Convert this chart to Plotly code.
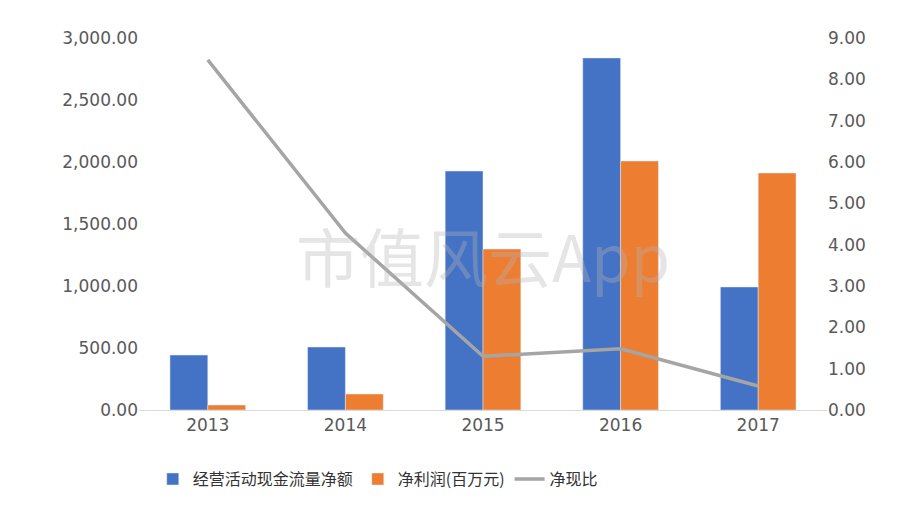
import plotly.graph_objects as go

years = ["2013", "2014", "2015", "2016", "2017"]
cash_flow = [443, 508, 1927, 2839, 992]
net_profit = [40, 129, 1298, 2008, 1911]
ratio = [8.47, 4.28, 1.30, 1.48, 0.58]

left_ticks = [0, 500, 1000, 1500, 2000, 2500, 3000]
right_ticks = [0, 1, 2, 3, 4, 5, 6, 7, 8, 9]

fig = go.Figure()
fig.add_trace(go.Bar(x=years, y=cash_flow, name="经营活动现金流量净额",
                     marker_color="#4472C4"))
fig.add_trace(go.Bar(x=years, y=net_profit, name="净利润(百万元)",
                     marker_color="#ED7D31"))
fig.add_trace(go.Scatter(x=years, y=ratio, name="净现比", yaxis="y2",
                         mode="lines", line=dict(color="#A5A5A5", width=3.5)))

tick_font = dict(family="DejaVu Sans", size=17, color="#595959")
fig.update_layout(
    width=904, height=516,
    margin=dict(l=131, r=85, t=30, b=114),
    paper_bgcolor="white", plot_bgcolor="white",
    bargap=0.45, bargroupgap=0.0,
    xaxis=dict(tickfont=tick_font, showline=True, linecolor="#D9D9D9"),
    yaxis=dict(range=[0, 3000], tickvals=left_ticks,
               ticktext=[f"{v:,.2f}" for v in left_ticks],
               tickfont=tick_font, showgrid=False, zeroline=False),
    yaxis2=dict(range=[0, 9], tickvals=right_ticks,
                ticktext=[f"{v:.2f}" for v in right_ticks],
                tickfont=tick_font, overlaying="y", side="right",
                showgrid=False, zeroline=False),
    legend=dict(orientation="h", x=0.02, y=-0.14, xanchor="left",
                font=dict(family="Noto Sans CJK SC", size=16, color="#333")),
    annotations=[dict(text="市值风云App", x=0.5, y=0.42, xref="paper", yref="paper",
                      showarrow=False,
                      font=dict(family="Noto Sans CJK SC", size=64,
                                color="rgba(180,180,180,0.35)"))],
)
fig.write_html("out.html")
